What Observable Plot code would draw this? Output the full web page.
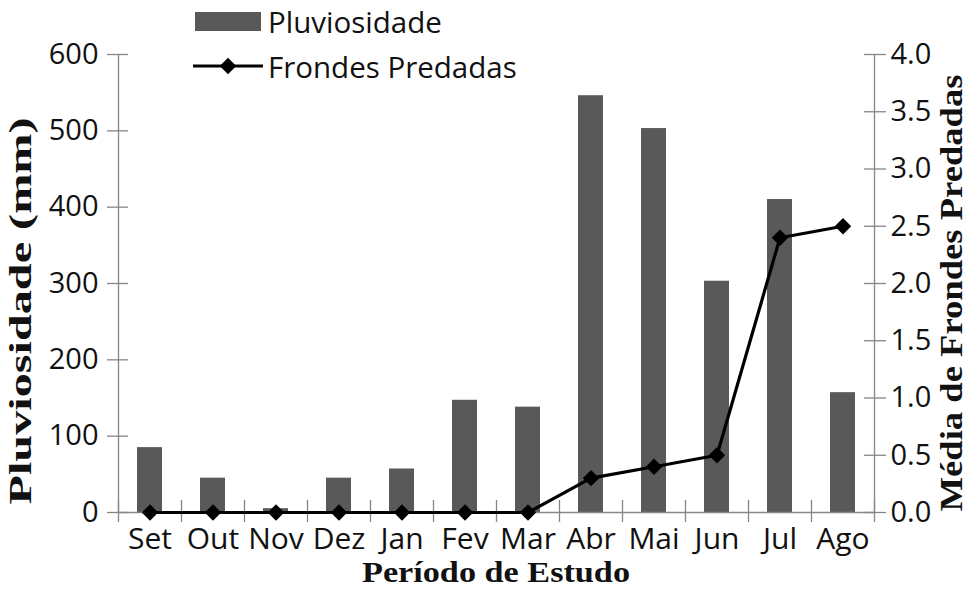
<!DOCTYPE html>
<html>
<head>
<meta charset="utf-8">
<script src="https://cdn.jsdelivr.net/npm/d3@7"></script>
<script src="https://cdn.jsdelivr.net/npm/@observablehq/plot@0.6"></script>
<style>
  html, body { margin: 0; padding: 0; background: #fff; overflow: hidden; }
  #chart svg { display: block; }
</style>
</head>
<body>
<div id="chart"></div>
<script>
const months = ["Set", "Out", "Nov", "Dez", "Jan", "Fev", "Mar", "Abr", "Mai", "Jun", "Jul", "Ago"];
const rainfall = [85, 45, 5, 45, 57, 147, 138, 546, 503, 303, 410, 157];
const predated = [0, 0, 0, 0, 0, 0, 0, 0.3, 0.4, 0.5, 2.4, 2.5];
const leftTicks = [0, 100, 200, 300, 400, 500, 600];
const rightTicks = [0, 0.5, 1.0, 1.5, 2.0, 2.5, 3.0, 3.5, 4.0];
const rightMax = 4.0;
const leftMax = 600;
const k = leftMax / rightMax;

const idx = months.map((_, i) => i);
const bounds = d3.range(months.length + 1);
const axisColor = "#868686";
const barColor = "#595959";
const textColor = "#111";

const plot = Plot.plot({
  width: 970,
  height: 590,
  marginLeft: 118,
  marginRight: 96,
  marginTop: 54,
  marginBottom: 78,
  style: { fontFamily: "'Open Sans', sans-serif", fontSize: "29px", color: textColor, background: "#fff", overflow: "visible" },
  x: { type: "linear", domain: [0, months.length], axis: null },
  y: { domain: [0, leftMax], axis: null },
  marks: [
    Plot.rectY(idx, { x1: i => i, x2: i => i + 1, y1: 0, y2: i => rainfall[i], fill: barColor, insetLeft: 19, insetRight: 19 }),
    Plot.ruleX([0, months.length], { stroke: axisColor, strokeWidth: 1.3 }),
    Plot.ruleY([0], { stroke: axisColor, strokeWidth: 1.3 }),
    Plot.axisX(bounds, { anchor: "bottom", tickSize: 22, dy: -12, stroke: axisColor, strokeWidth: 1.3, tickFormat: () => "", label: null }),
    Plot.text(idx, { x: i => i + 0.5, text: i => months[i], frameAnchor: "bottom", dy: 27, lineAnchor: "middle", fill: textColor, fontSize: 30 }),
    Plot.axisY(leftTicks, { anchor: "left", tickSize: 21, dx: 10, stroke: axisColor, strokeWidth: 1.3, tickFormat: () => "", label: null }),
    Plot.axisY(leftTicks, { anchor: "left", tickSize: 0, tickPadding: 20, fill: textColor, fontSize: 29, label: null }),
    Plot.axisY(rightTicks.map(v => v * k), { anchor: "right", tickSize: 22, dx: -11, stroke: axisColor, strokeWidth: 1.3, tickFormat: () => "", label: null }),
    Plot.axisY(rightTicks.map(v => v * k), { anchor: "right", tickSize: 0, tickPadding: 16, fill: textColor, fontSize: 29, tickFormat: d => (d / k).toFixed(1), label: null }),
    Plot.line(idx, { x: i => i + 0.5, y: i => predated[i] * k, stroke: "#000", strokeWidth: 3.2 }),
    Plot.dot(idx, { x: i => i + 0.5, y: i => predated[i] * k, symbol: "diamond2", r: 7.4, fill: "#000", stroke: "none" })
  ]
});

const svg = d3.select(plot);
const serif = "'Liberation Serif', 'Times New Roman', serif";
svg.append("text")
  .attr("transform", "translate(31,311) rotate(-90)")
  .attr("text-anchor", "middle")
  .attr("font-family", serif)
  .attr("font-weight", "bold")
  .attr("font-size", 32)
  .attr("fill", textColor)
  .attr("textLength", 387)
  .attr("lengthAdjust", "spacingAndGlyphs")
  .text("Pluviosidade (mm)");

svg.append("text")
  .attr("transform", "translate(962,293) rotate(-90)")
  .attr("text-anchor", "middle")
  .attr("font-family", serif)
  .attr("font-weight", "bold")
  .attr("font-size", 32)
  .attr("fill", textColor)
  .attr("textLength", 437)
  .attr("lengthAdjust", "spacingAndGlyphs")
  .text("Média de Frondes Predadas");

svg.append("text")
  .attr("x", 496)
  .attr("y", 582)
  .attr("text-anchor", "middle")
  .attr("font-family", serif)
  .attr("font-weight", "bold")
  .attr("font-size", 30)
  .attr("fill", textColor)
  .attr("textLength", 268)
  .attr("lengthAdjust", "spacingAndGlyphs")
  .text("Período de Estudo");

const lg = svg.append("g").attr("font-family", "'Open Sans', sans-serif").attr("font-size", 29.5).attr("fill", textColor);
lg.append("rect").attr("x", 195).attr("y", 12).attr("width", 66).attr("height", 19).attr("fill", barColor);
lg.append("text").attr("x", 268).attr("y", 21).attr("text-anchor", "start").attr("dominant-baseline", "central").text("Pluviosidade");
lg.append("line").attr("x1", 193).attr("x2", 263).attr("y1", 66).attr("y2", 66).attr("stroke", "#000").attr("stroke-width", 3.2);
lg.append("path").attr("d", d3.symbol(d3.symbolDiamond2, Math.PI * 7.4 * 7.4)()).attr("transform", "translate(228,66)").attr("fill", "#000");
lg.append("text").attr("x", 268).attr("y", 66).attr("text-anchor", "start").attr("dominant-baseline", "central").text("Frondes Predadas");

document.getElementById("chart").appendChild(plot);
</script>
</body>
</html>
